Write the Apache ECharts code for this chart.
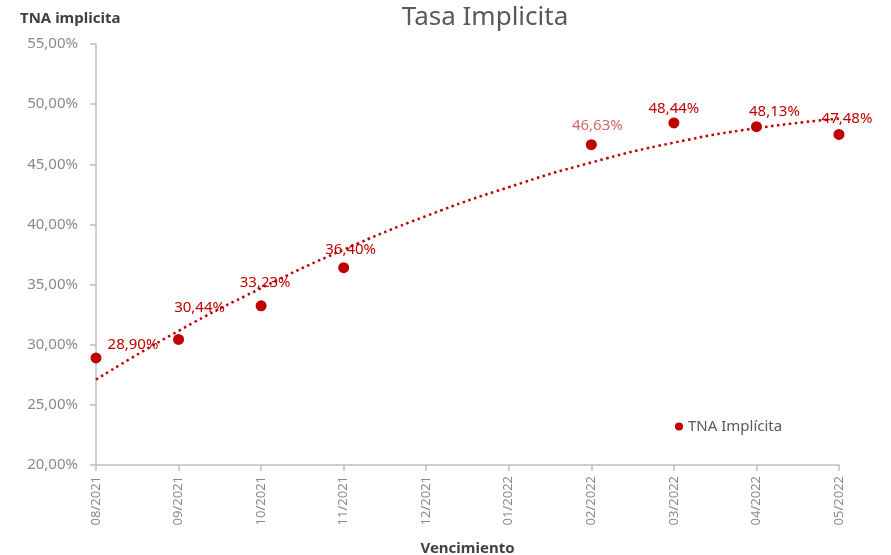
<!DOCTYPE html>
<html>
<head>
<meta charset="utf-8">
<script src="https://cdn.jsdelivr.net/npm/echarts@6/dist/echarts.min.js"></script>
<style>html,body{margin:0;padding:0;background:#fff}#c{width:891px;height:555px}</style>
</head>
<body>
<div id="c"></div>
<script>
const categories = ['08/2021','09/2021','10/2021','11/2021','12/2021','01/2022','02/2022','03/2022','04/2022','05/2022'];
const pointMonths = ['08/2021','09/2021','10/2021','11/2021','02/2022','03/2022','04/2022','05/2022'];
const tnaValues = [28.90, 30.44, 33.23, 36.40, 46.63, 48.44, 48.13, 47.48];
const trendValues = [27.1, 31.15, 34.7, 37.9, 40.7, 43.1, 45.15, 46.8, 48.0, 48.8];
const yTicks = { min: 20, max: 55, step: 5 };
const labelOffsets = [[37,-13],[21,-32],[4,-23],[7,-18],[6,-19],[0,-14],[18,-15],[8,-16]];

const FONT = '"Noto Sans", "Open Sans", sans-serif';
const RED = '#c00000';
const fmt = v => v.toFixed(2).replace('.', ',') + '%';

const scatterData = pointMonths.map((m, i) => {
  const item = {
    value: [m, tnaValues[i]],
    label: { offset: labelOffsets[i] }
  };
  if (i === 4) item.label.color = '#d06a6a';
  return item;
});

const chart = echarts.init(document.getElementById('c'), null, { renderer: 'canvas' });
chart.setOption({
  animation: false,
  backgroundColor: '#ffffff',
  textStyle: { fontFamily: FONT },
  title: {
    text: 'Tasa Implicita',
    left: 480, top: 0, textAlign: 'center',
    textStyle: { fontFamily: FONT, fontSize: 26, fontWeight: 'normal', color: '#595959' }
  },
  legend: {
    data: [{ name: 'TNA Implícita', icon: 'circle' }],
    left: 670, top: 414,
    itemWidth: 8, itemHeight: 8, itemGap: 7,
    textStyle: { fontFamily: FONT, fontSize: 15, color: '#595959' }
  },
  grid: { left: 96, right: 52, top: 44, bottom: 90, outerBoundsMode: 'none', containLabel: false },
  xAxis: {
    type: 'category',
    data: categories,
    boundaryGap: false,
    name: 'Vencimiento',
    nameLocation: 'middle',
    nameGap: 76,
    nameTextStyle: { fontFamily: FONT, fontSize: 15, fontWeight: 'bold', color: '#404040' },
    axisLine: { lineStyle: { color: '#bfbfbf', width: 1.5 } },
    axisTick: { alignWithLabel: true, length: 6, lineStyle: { color: '#bfbfbf', width: 1.5 } },
    axisLabel: { rotate: 90, fontSize: 13, color: '#8a8a8a', margin: 11, fontFamily: FONT },
    splitLine: { show: false }
  },
  yAxis: {
    type: 'value',
    min: yTicks.min, max: yTicks.max, interval: yTicks.step,
    name: 'TNA implicita',
    nameLocation: 'end',
    nameGap: 18,
    nameTextStyle: { fontFamily: FONT, fontSize: 15, fontWeight: 'bold', color: '#404040', align: 'left', padding: [0, 0, 0, -76] },
    axisLine: { show: true, lineStyle: { color: '#bfbfbf', width: 1.5 } },
    axisTick: { show: true, length: 6, lineStyle: { color: '#bfbfbf', width: 1.5 } },
    axisLabel: { formatter: v => fmt(v), fontSize: 15, color: '#8a8a8a', margin: 18, fontFamily: FONT },
    splitLine: { show: false }
  },
  series: [
    {
      name: 'Tendencia',
      type: 'line',
      data: trendValues,
      smooth: true,
      showSymbol: false,
      silent: true,
      z: 1,
      lineStyle: { color: RED, width: 2.5, type: [2.5, 3.5], cap: 'butt' }
    },
    {
      name: 'TNA Implícita',
      type: 'scatter',
      data: scatterData,
      symbol: 'circle',
      symbolSize: 11,
      z: 3,
      itemStyle: { color: RED, opacity: 1 },
      label: {
        show: true,
        position: 'inside',
        formatter: p => fmt(p.value[1]),
        color: RED,
        fontSize: 15,
        fontFamily: FONT
      }
    }
  ]
});
</script>
</body>
</html>
